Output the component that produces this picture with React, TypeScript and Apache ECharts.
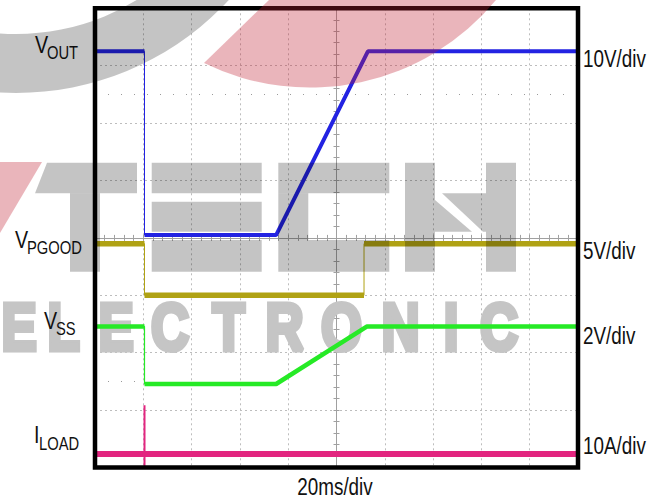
import React, { useEffect, useRef } from 'react';
import * as echarts from 'echarts';

// ---- Time base (ms), 20 ms/div over 10 divisions ----
const timeMin = 0;
const timeMax = 200;
const timePerDiv = 20;
const timebaseLabel = '20ms/div';

// ---- Channel traces: time (ms) and value (V or A) ----
const vOutTime = [0, 20.5, 20.5, 75, 113, 200];
const vOutValue = [32, 32, 0, 0, 32, 32];

const vPgoodTime = [0, 20.5, 20.5, 111.4, 111.4, 200];
const vPgoodValue = [4.5, 4.5, 0, 0, 4.5, 4.5];

const vSsTime = [0, 20.5, 20.5, 75, 112.5, 200];
const vSsValue = [2, 2, 0, 0, 2, 2];

const iLoadTime = [0, 20.5, 20.5, 20.5, 20.5, 200];
const iLoadValue = [0, 0, 8.5, -2.2, 0, 0];

// ---- Channel settings ----
const channelScale = [10, 5, 2, 10]; // units per division
const channelGround = [4.05, 3.0, 1.455, 0.235]; // ground marker, divisions from bottom
const channelScaleLabel = ['10V/div', '5V/div', '2V/div', '10A/div'];
const channelColor = ['#2323e2', '#b0a214', '#26ea26', '#e2257f'];
const channelWidth = [4, 5.5, 4.5, 6];
const channelEdgeWidth = [1, 1, 1.2, 2];

// ---- Layout constants ----
const W = 660;
const H = 501;
const PL = 95;
const PR = 578;
const PT = 8.3;
const PB = 467.5;

const pinkPathD = 'M204 63 L269 0 L496 0 A241 241 0 0 1 204 63 Z';
echarts.graphic.registerShape('pinkSwoosh', echarts.graphic.extendPath(pinkPathD, {}) as any);

const toDiv = (v: number, ch: number) => channelGround[ch] + v / channelScale[ch];

function thickData(t: number[], v: number[], ch: number) {
  const out: any[] = [];
  for (let i = 0; i < t.length; i++) {
    if (i > 0 && t[i] === t[i - 1]) out.push([t[i], '-']);
    out.push([t[i], toDiv(v[i], ch)]);
  }
  return out;
}
function fullData(t: number[], v: number[], ch: number) {
  return t.map((tt, i) => [tt, toDiv(v[i], ch)]);
}

const traces = [
  { t: vOutTime, v: vOutValue },
  { t: vPgoodTime, v: vPgoodValue },
  { t: vSsTime, v: vSsValue },
  { t: iLoadTime, v: iLoadValue },
];

const WM = 'rgba(0,0,0,0.23)';
const WM_SOLID = '#c5c5c5';
const PINK = 'rgba(190,30,50,0.33)';

function txt(text: string, x: number, y: number, size: number, align = 'left') {
  return {
    type: 'text',
    x,
    y,
    scaleX: 0.82,
    z: 50,
    silent: true,
    style: {
      text,
      font: `${size}px "Liberation Sans", Arial, sans-serif`,
      fill: '#111',
      align,
      verticalAlign: 'middle',
      textAlign: align,
      textVerticalAlign: 'middle',
    },
  };
}

const wmLetters = 'ELECTRONIC'.split('');
const wmLetterX = [19, 63.5, 116, 170, 228.5, 284.5, 341.5, 400.5, 451, 499];

function buildOption(): any {
  const series: any[] = [];
  traces.forEach((tr, ch) => {
    series.push({
      type: 'line',
      xAxisIndex: 0,
      yAxisIndex: 0,
      data: fullData(tr.t, tr.v, ch),
      symbol: 'none',
      silent: true,
      z: 3,
      lineStyle: { color: channelColor[ch], width: channelEdgeWidth[ch] },
    });
    series.push({
      type: 'line',
      xAxisIndex: 0,
      yAxisIndex: 0,
      data: thickData(tr.t, tr.v, ch),
      symbol: 'none',
      silent: true,
      z: 4,
      connectNulls: false,
      lineStyle: { color: channelColor[ch], width: channelWidth[ch] },
      markLine:
        ch === 0
          ? {
              silent: true,
              symbol: 'none',
              label: { show: false },
              lineStyle: { color: '#9a9a9a', type: [1, 12], width: 1 },
              data: [{ yAxis: 6.5 }, [{ coord: [0, 1.5] }, { coord: [20, 1.5] }]],
            }
          : undefined,
    });
  });

  const centerAxisX = (position: string) => ({
    gridIndex: 1,
    type: 'value',
    min: -(timeMax - timeMin) / 2,
    max: (timeMax - timeMin) / 2,
    interval: timePerDiv,
    position,
    axisLine: { show: true, onZero: true, lineStyle: { color: '#a0a0a0', width: 1 } },
    axisTick: { show: true, length: 3, lineStyle: { color: '#a0a0a0' } },
    minorTick: { show: true, splitNumber: 5, length: 3, lineStyle: { color: '#a0a0a0' } },
    axisLabel: { show: false },
    splitLine: { show: false },
  });
  const centerAxisY = (position: string) => ({
    gridIndex: 1,
    type: 'value',
    min: -4,
    max: 4,
    interval: 1,
    position,
    axisLine: { show: true, onZero: true, lineStyle: { color: '#a0a0a0', width: 1 } },
    axisTick: { show: true, length: 3, lineStyle: { color: '#a0a0a0' } },
    minorTick: { show: true, splitNumber: 5, length: 3, lineStyle: { color: '#a0a0a0' } },
    axisLabel: { show: false },
    splitLine: { show: false },
  });

  const graphics: any[] = [
    // plot frame
    {
      type: 'rect',
      z: 90,
      silent: true,
      shape: { x: PL, y: PT, width: PR - PL, height: PB - PT },
      style: { fill: 'none', stroke: '#000', lineWidth: 4.5 },
    },
    // watermark: gray swoosh ring
    {
      type: 'sector',
      z: 100,
      silent: true,
      shape: { cx: 16, cy: -197, r0: 231, r: 290, startAngle: 0, endAngle: Math.PI },
      style: { fill: WM },
    },
    { type: 'pinkSwoosh', x: 0, y: 0, z: 100, silent: true, style: { fill: PINK } },
    {
      type: 'polygon',
      z: 100,
      silent: true,
      shape: { points: [[0, 162], [42, 162], [0, 233]] },
      style: { fill: PINK },
    },
    // T
    {
      type: 'polygon',
      z: 100,
      silent: true,
      shape: { points: [[47, 162.7], [137, 162.7], [137, 193.3], [35, 193.3]] },
      style: { fill: WM },
    },
    { type: 'rect', z: 100, silent: true, shape: { x: 70, y: 193.3, width: 30, height: 78.4 }, style: { fill: WM } },
    // E
    { type: 'rect', z: 100, silent: true, shape: { x: 151.7, y: 162.7, width: 110, height: 30.6 }, style: { fill: WM } },
    { type: 'rect', z: 100, silent: true, shape: { x: 151.7, y: 201.7, width: 110, height: 30 }, style: { fill: WM } },
    { type: 'rect', z: 100, silent: true, shape: { x: 151.7, y: 240, width: 110, height: 31.7 }, style: { fill: WM } },
    // C
    { type: 'rect', z: 100, silent: true, shape: { x: 278.3, y: 162.7, width: 111, height: 30.6 }, style: { fill: WM } },
    { type: 'rect', z: 100, silent: true, shape: { x: 278.3, y: 193.3, width: 30, height: 46.7 }, style: { fill: WM } },
    { type: 'rect', z: 100, silent: true, shape: { x: 278.3, y: 240, width: 111, height: 31.7 }, style: { fill: WM } },
    // H
    { type: 'rect', z: 100, silent: true, shape: { x: 405, y: 162.7, width: 30, height: 109 }, style: { fill: WM } },
    { type: 'rect', z: 100, silent: true, shape: { x: 486, y: 162.7, width: 30, height: 109 }, style: { fill: WM } },
    {
      type: 'polygon',
      z: 100,
      silent: true,
      shape: { points: [[442, 193.3], [486, 193.3], [486, 231.7], [483, 231.7]] },
      style: { fill: WM },
    },
    {
      type: 'polygon',
      z: 100,
      silent: true,
      shape: { points: [[435, 200], [472, 231.7], [435, 231.7]] },
      style: { fill: WM },
    },
  ];

  wmLetters.forEach((ch, i) => {
    graphics.push({
      type: 'text',
      x: wmLetterX[i],
      y: 327,
      scaleX: 0.8,
      z: 1,
      silent: true,
      style: {
        text: ch,
        font: 'bold 66px "Liberation Sans", Arial, sans-serif',
        fill: WM_SOLID,
        stroke: WM_SOLID,
        lineWidth: 5,
        lineJoin: 'miter',
        align: 'center',
        verticalAlign: 'middle',
        textAlign: 'center',
        textVerticalAlign: 'middle',
      },
    });
  });

  // channel name labels (main letter + subscript)
  graphics.push(txt('V', 35, 44.5, 24));
  graphics.push(txt('OUT', 47, 52, 18));
  graphics.push(txt('V', 15, 239.5, 24));
  graphics.push(txt('PGOOD', 27, 247.5, 18));
  graphics.push(txt('V', 44, 321, 24));
  graphics.push(txt('SS', 56, 328.5, 18));
  graphics.push(txt('I', 34, 435, 24));
  graphics.push(txt('LOAD', 39, 443, 18));

  // scale labels
  const scaleLabelY = [58.3, 251, 336, 445.5];
  channelScaleLabel.forEach((s, i) => graphics.push(txt(s, 583, scaleLabelY[i], 23)));
  graphics.push(txt(timebaseLabel, 335, 486.5, 23, 'center'));

  return {
    animation: false,
    backgroundColor: '#ffffff',
    grid: [
      { left: PL, right: W - PR, top: PT, bottom: H - PB, show: false, containLabel: false },
      { left: PL, right: W - PR, top: PT, bottom: H - PB, show: false, containLabel: false },
    ],
    xAxis: [
      {
        gridIndex: 0,
        type: 'value',
        min: timeMin,
        max: timeMax,
        interval: timePerDiv,
        axisLine: { show: false },
        axisTick: { show: false },
        axisLabel: { show: false },
        splitLine: { show: true, lineStyle: { color: '#bdbdbd', type: [2, 3], width: 1 } },
      },
      centerAxisX('bottom'),
      centerAxisX('top'),
    ],
    yAxis: [
      {
        gridIndex: 0,
        type: 'value',
        min: 0,
        max: 8,
        interval: 1,
        axisLine: { show: false },
        axisTick: { show: false },
        axisLabel: { show: false },
        splitLine: { show: true, lineStyle: { color: '#bdbdbd', type: [2, 3], width: 1 } },
      },
      centerAxisY('left'),
      centerAxisY('right'),
    ],
    series,
    graphic: { elements: graphics },
  };
}

export default function App() {
  const ref = useRef<HTMLDivElement>(null);
  useEffect(() => {
    if (!ref.current) return;
    const chart = echarts.init(ref.current, null, { renderer: 'svg' });
    chart.setOption(buildOption());
    return () => chart.dispose();
  }, []);
  return (
    <div
      ref={ref}
      style={{ position: 'fixed', left: 0, top: 0, width: W, height: H, background: '#fff' }}
    />
  );
}
